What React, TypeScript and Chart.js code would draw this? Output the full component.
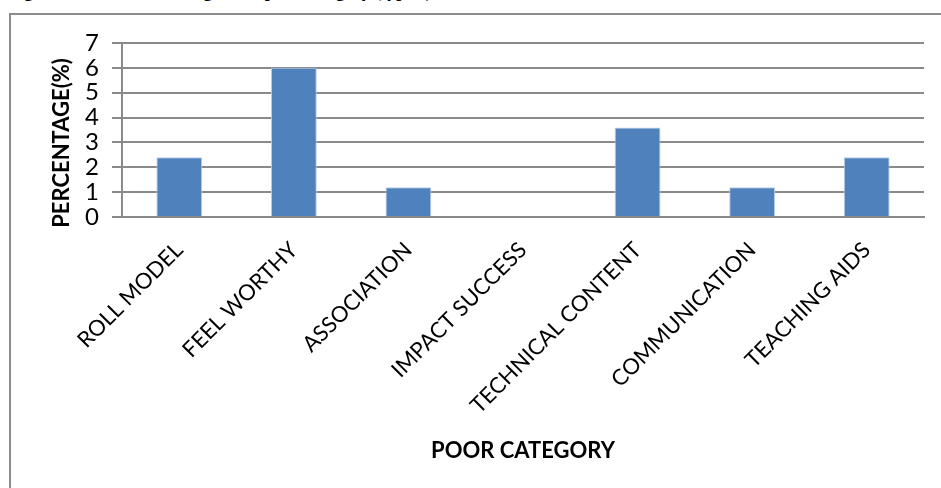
import React, { useEffect, useRef } from "react";
import { Chart, registerables } from "chart.js";

Chart.register(...registerables);

const categories = [
  "ROLL MODEL",
  "FEEL WORTHY",
  "ASSOCIATION",
  "IMPACT SUCCESS",
  "TECHNICAL CONTENT",
  "COMMUNICATION",
  "TEACHING AIDS",
];
const percentages = [2.4, 6.0, 1.2, 0, 3.6, 1.2, 2.4];
const yMin = 0;
const yMax = 7;
const yStep = 1;
const yAxisTitle = "PERCENTAGE(%)";
const xAxisTitle = "POOR CATEGORY";
const figureCaption = "Figure 4: Teachers' Rating of the poor category (type I)";

const FONT = "Lato, 'Noto Sans', sans-serif";
const GRID = "#8a8a8a";

const yTitlePlugin = {
  id: "yTitleCustom",
  afterDraw(chart: any) {
    const { ctx, chartArea } = chart;
    ctx.save();
    ctx.font = `bold 22px ${FONT}`;
    ctx.fillStyle = "#000";
    ctx.translate(chartArea.left - 60, (chartArea.top + chartArea.bottom) / 2 + 13);
    ctx.rotate(-Math.PI / 2);
    ctx.textAlign = "center";
    ctx.textBaseline = "middle";
    ctx.fillText(yAxisTitle, 0, 0);
    ctx.restore();
  },
};

export default function App() {
  const canvasRef = useRef<HTMLCanvasElement | null>(null);

  useEffect(() => {
    document.body.style.margin = "0";
    const canvas = canvasRef.current;
    if (!canvas) return;
    const chart = new Chart(canvas, {
      type: "bar",
      data: {
        labels: categories,
        datasets: [
          {
            label: "Percentage",
            data: percentages,
            backgroundColor: "#4f81bd",
            borderColor: "#b9cde5",
            borderWidth: 1,
            barPercentage: 0.4,
            categoryPercentage: 1,
          },
        ],
      },
      options: {
        responsive: false,
        animation: false,
        devicePixelRatio: 1,
        layout: { padding: { left: 0, right: 17, top: 43, bottom: 20 } },
        plugins: {
          legend: { display: false },
          tooltip: { enabled: false },
          title: { display: false },
        },
        scales: {
          x: {
            grid: { display: false, drawTicks: false },
            border: { display: true, color: GRID, width: 2 },
            ticks: {
              color: "#000",
              font: { family: FONT, size: 22 },
              minRotation: 45,
              maxRotation: 45,
              autoSkip: false,
              padding: 20,
            },
            title: {
              display: true,
              text: xAxisTitle,
              color: "#000",
              font: { family: FONT, size: 22, weight: "bold" },
              padding: { top: 4, bottom: 4 },
            },
            afterFit(scale: any) {
              scale.height = 251;
            },
          },
          y: {
            min: yMin,
            max: yMax,
            ticks: {
              stepSize: yStep,
              autoSkip: false,
              color: "#000",
              font: { family: FONT, size: 24, lineHeight: 1 },
              padding: 13,
            },
            grid: {
              color: GRID,
              lineWidth: 2,
              drawTicks: true,
              tickLength: 10,
            },
            border: { display: true, color: GRID, width: 2 },
            title: { display: false },
            afterFit(scale: any) {
              scale.width = 122;
            },
          },
        },
      },
      plugins: [yTitlePlugin],
    });
    return () => chart.destroy();
  }, []);

  return (
    <div
      style={{
        position: "fixed",
        left: 0,
        top: 0,
        width: 941,
        height: 488,
        overflow: "hidden",
        background: "#fff",
      }}
    >
      <div
        style={{
          position: "absolute",
          left: 8,
          top: -18,
          fontFamily: "'Liberation Serif', 'Times New Roman', serif",
          fontWeight: "bold",
          fontSize: 18,
          lineHeight: "18px",
          whiteSpace: "nowrap",
          color: "#000",
        }}
      >
        {figureCaption}
      </div>
      <div
        style={{
          position: "absolute",
          left: 9,
          top: 13,
          width: 1000,
          height: 1000,
          border: "2px solid #8c8c8c",
          boxSizing: "border-box",
        }}
      />
      <canvas
        ref={canvasRef}
        width={941}
        height={488}
        style={{ position: "absolute", left: 0, top: 0, width: 941, height: 488, display: "block" }}
      />
    </div>
  );
}
